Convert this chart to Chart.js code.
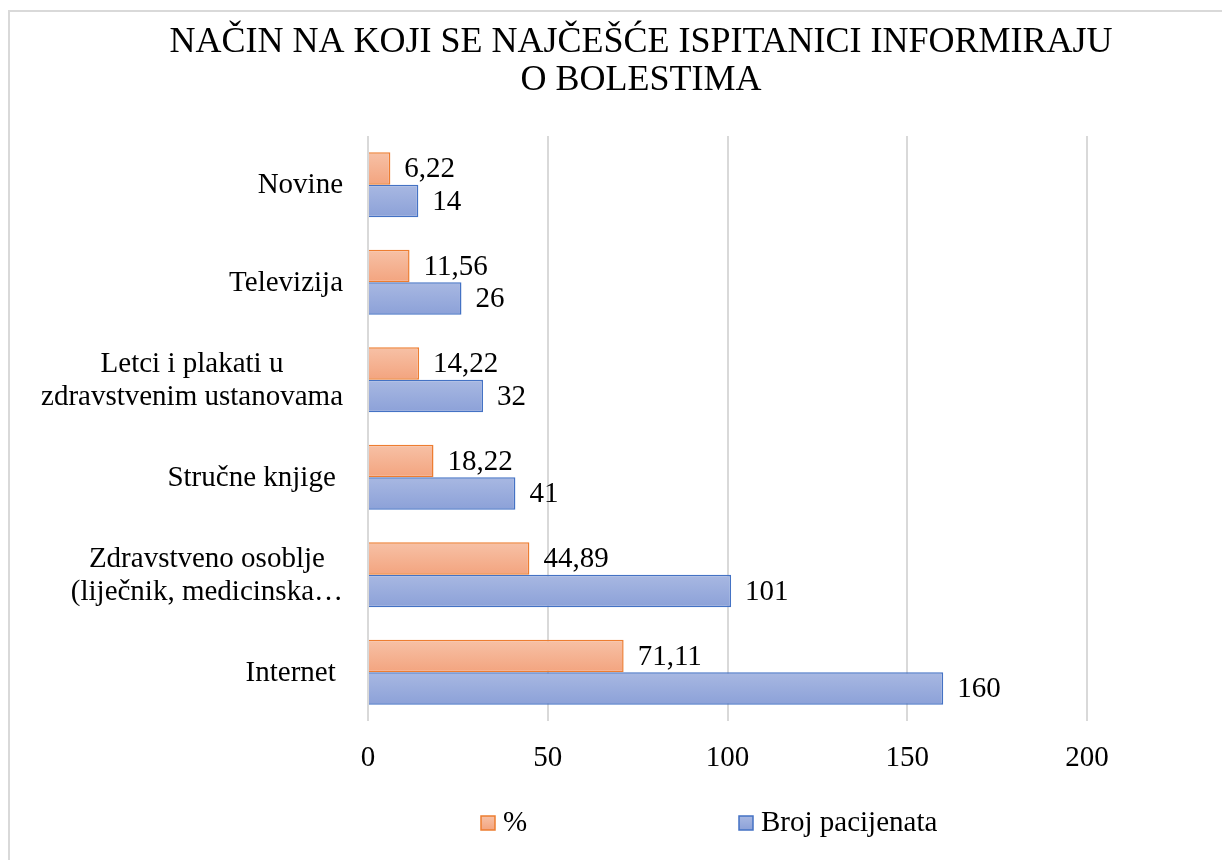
<!DOCTYPE html>
<html>
<head>
<meta charset="utf-8">
<script src="https://cdn.jsdelivr.net/npm/chart.js@4/dist/chart.umd.min.js"></script>
<style>
  html, body { margin: 0; padding: 0; background: #fff; overflow: hidden; }
  #box { position: absolute; left: 8px; top: 10px; border: 2px solid #d9d9d9; }
  #wrap { position: relative; width: 1262px; height: 860px; }
</style>
</head>
<body>
<div id="box"><div id="wrap"><canvas id="chart"></canvas></div></div>
<script>
const categories = [
  "Novine",
  "Televizija",
  ["Letci i plakati u", "zdravstvenim ustanovama"],
  "Stručne knjige ",
  ["Zdravstveno osoblje", "(liječnik, medicinska…"],
  "Internet ",
];
const seriesNames = ["%", "Broj pacijenata"];
const percentValues = [6.22, 11.56, 14.22, 18.22, 44.89, 71.11];
const patientCounts = [14, 26, 32, 41, 101, 160];
const xMin = 0;
const xMax = 200;
const xStep = 50;

const fontFamily = "'Liberation Serif', 'Times New Roman', serif";
const catPercent = 0.667;
const fills = [
  ["#f7c1a6", "#f3a47f"],
  ["#a8b8e2", "#8ca1d8"],
];
const borders = ["#ed7d31", "#4472c4"];

function barFill(c, which) {
  const chart = c.chart;
  const y = chart.scales.y;
  const area = chart.chartArea;
  if (!area || !y || c.dataIndex === undefined) return fills[which][1];
  const center = y.getPixelForValue(c.dataIndex);
  const half = ((area.bottom - area.top) / categories.length) * catPercent / 2;
  const top = which === 0 ? center - half : center;
  const g = chart.ctx.createLinearGradient(0, top, 0, top + half);
  g.addColorStop(0, fills[which][0]);
  g.addColorStop(1, fills[which][1]);
  return g;
}

function fmt(v) {
  return String(v).replace(".", ",");
}

// category labels: lines centred inside a block that sits against the axis
const categoryLabels = {
  id: "categoryLabels",
  afterDraw(chart) {
    const ctx = chart.ctx;
    const y = chart.scales.y;
    const right = y.right - 25;
    const lh = 33;
    ctx.save();
    ctx.font = "29px " + fontFamily;
    ctx.fillStyle = "#000";
    ctx.textBaseline = "middle";
    ctx.textAlign = "center";
    categories.forEach((label, i) => {
      const lines = Array.isArray(label) ? label : [label];
      const w = Math.max(...lines.map((l) => ctx.measureText(l).width));
      const cx = right - w / 2;
      const cy = y.getPixelForValue(i) + 1;
      lines.forEach((line, k) => {
        ctx.fillText(line, cx, cy + (k - (lines.length - 1) / 2) * lh);
      });
    });
    ctx.restore();
  },
};

const valueLabels = {
  id: "valueLabels",
  afterDatasetsDraw(chart) {
    const ctx = chart.ctx;
    ctx.save();
    ctx.font = "29px " + fontFamily;
    ctx.fillStyle = "#000";
    ctx.textBaseline = "middle";
    ctx.textAlign = "left";
    chart.data.datasets.forEach((ds, di) => {
      chart.getDatasetMeta(di).data.forEach((bar, i) => {
        ctx.fillText(fmt(ds.data[i]), bar.x + 14, bar.y + 1);
      });
    });
    ctx.restore();
  },
};

const bottomLegend = {
  id: "bottomLegend",
  afterDraw(chart) {
    const ctx = chart.ctx;
    const xs = [471, 729];
    const cy = 811;
    ctx.save();
    ctx.font = "29px " + fontFamily;
    ctx.textBaseline = "middle";
    ctx.textAlign = "left";
    chart.data.datasets.forEach((ds, i) => {
      const g = ctx.createLinearGradient(0, cy - 7, 0, cy + 7);
      g.addColorStop(0, fills[i][0]);
      g.addColorStop(1, fills[i][1]);
      ctx.fillStyle = g;
      ctx.fillRect(xs[i], cy - 7, 14, 14);
      ctx.strokeStyle = borders[i];
      ctx.lineWidth = 1.5;
      ctx.strokeRect(xs[i], cy - 7, 14, 14);
      ctx.fillStyle = "#000";
      ctx.fillText(ds.label, xs[i] + 22, cy);
    });
    ctx.restore();
  },
};

const ctx = document.getElementById("chart").getContext("2d");
const myChart = new Chart(ctx, {
  type: "bar",
  data: {
    labels: categories,
    datasets: [
      {
        label: seriesNames[0],
        data: percentValues,
        backgroundColor: (c) => barFill(c, 0),
        borderColor: borders[0],
        borderWidth: 1.5,
      },
      {
        label: seriesNames[1],
        data: patientCounts,
        backgroundColor: (c) => barFill(c, 1),
        borderColor: borders[1],
        borderWidth: 1.5,
      },
    ],
  },
  options: {
    indexAxis: "y",
    responsive: true,
    maintainAspectRatio: false,
    animation: false,
    events: [],
    datasets: {
      bar: { categoryPercentage: catPercent, barPercentage: 1 },
    },
    layout: { padding: { left: 0, right: 0, top: 0, bottom: 91 } },
    plugins: {
      legend: { display: false },
      tooltip: { enabled: false },
      title: {
        display: true,
        text: ["NAČIN NA KOJI SE NAJČEŠĆE ISPITANICI INFORMIRAJU", "O BOLESTIMA"],
        color: "#000",
        font: { family: fontFamily, size: 36, weight: "normal", lineHeight: 38 / 36 },
        padding: { top: 12, bottom: 36 },
      },
    },
    scales: {
      x: {
        min: xMin,
        max: xMax,
        ticks: {
          stepSize: xStep,
          color: "#000",
          padding: 20,
          font: { family: fontFamily, size: 29 },
        },
        grid: { color: "#d9d9d9", lineWidth: 2, drawTicks: false },
        border: { display: false },
        afterFit(s) {
          s.height = 60;
        },
      },
      y: {
        ticks: { display: false },
        grid: { display: false },
        border: { display: false },
        afterFit(s) {
          s.width = 358;
        },
      },
      // empty right-hand axis that keeps the gap to the right of the plot
      yRight: {
        type: "category",
        position: "right",
        ticks: { display: false },
        grid: { display: false },
        border: { display: false },
        afterFit(s) {
          s.width = 185;
        },
      },
    },
  },
  plugins: [categoryLabels, valueLabels, bottomLegend],
});
</script>
</body>
</html>
